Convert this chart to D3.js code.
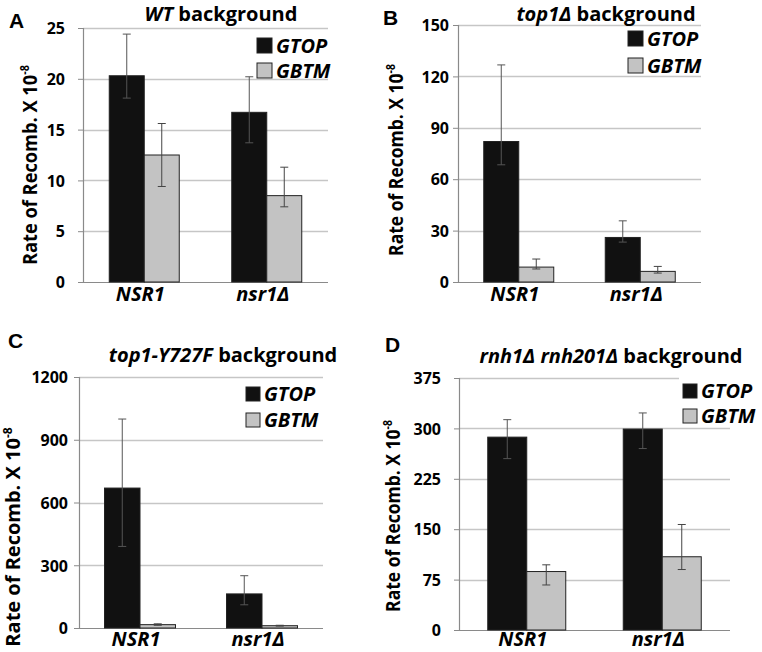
<!DOCTYPE html>
<html><head><meta charset="utf-8">
<script src="https://cdn.jsdelivr.net/npm/d3@7"></script>
<style>
html,body{margin:0;padding:0;background:#fff;}
svg{display:block;}
text{font-family:"Open Sans",sans-serif;font-weight:700;fill:#000;}
</style></head>
<body>
<svg id="chart" width="762" height="652"></svg>
<script>
// ---- data ----
const categories = ["NSR1", "nsr1Δ"];
const seriesNames = ["GTOP", "GBTM"];
const panelLetters = ["A", "B", "C", "D"];
const titleItalic = ["WT", "top1Δ", "top1-Y727F", "rnh1Δ rnh201Δ"];
const yTicksA = [0, 5, 10, 15, 20, 25];
const yTicksB = [0, 30, 60, 90, 120, 150];
const yTicksC = [0, 300, 600, 900, 1200];
const yTicksD = [0, 75, 150, 225, 300, 375];
// values per category [NSR1, nsr1Δ]
const gtopA = [20.3, 16.7], gtopA_hi = [24.4, 20.2], gtopA_lo = [18.1, 13.7];
const gbtmA = [12.5, 8.5],  gbtmA_hi = [15.6, 11.3], gbtmA_lo = [9.4, 7.4];
const gtopB = [82, 26],     gtopB_hi = [126.7, 35.7], gtopB_lo = [68.4, 23.3];
const gbtmB = [8.7, 6.2],   gbtmB_hi = [13.4, 9.1],   gbtmB_lo = [7.6, 5.2];
const gtopC = [669, 163],   gtopC_hi = [999, 250],    gtopC_lo = [390, 111];
const gbtmC = [16, 11],     gbtmC_hi = [20, 13],      gbtmC_lo = [13, 9];
const gtopD = [287, 299],   gtopD_hi = [313, 323],    gtopD_lo = [255, 270];
const gbtmD = [87, 109],    gbtmD_hi = [97, 157],     gbtmD_lo = [67, 90];

const panelData = [
  {ticks: yTicksA, s: [[gtopA, gtopA_lo, gtopA_hi], [gbtmA, gbtmA_lo, gbtmA_hi]]},
  {ticks: yTicksB, s: [[gtopB, gtopB_lo, gtopB_hi], [gbtmB, gbtmB_lo, gbtmB_hi]]},
  {ticks: yTicksC, s: [[gtopC, gtopC_lo, gtopC_hi], [gbtmC, gbtmC_lo, gbtmC_hi]]},
  {ticks: yTicksD, s: [[gtopD, gtopD_lo, gtopD_hi], [gbtmD, gbtmD_lo, gbtmD_hi]]}
];

// ---- layout ----
const layout = [
  {x0: 83, x1: 328, yT: 28, yB: 282, bw: 35, pad: 13, titleX: 221, titleY: 21, letX: 9, letY: 28,
   legX: 257, legY: 38, legS: 15, legGap: 25, xLabY: 301, yTitX: 30, yTitY: 165, yTitLen: 200, legBg: false},
  {x0: 458, x1: 701, yT: 25, yB: 282, bw: 35, pad: 4, titleX: 606, titleY: 21, letX: 383, letY: 25,
   legX: 628, legY: 31, legS: 15, legGap: 27, xLabY: 301, yTitX: 396, yTitY: 160, yTitLen: 192, legBg: false},
  {x0: 79, x1: 323, yT: 377, yB: 628, bw: 35.5, pad: 6, titleX: 223, titleY: 362, letX: 8, letY: 348,
   legX: 246, legY: 387, legS: 14, legGap: 26, xLabY: 646, yTitX: 13, yTitY: 537, yTitLen: 222, legBg: false},
  {x0: 459, x1: 730, yT: 378, yB: 630, bw: 39, pad: 13, titleX: 611, titleY: 363, letX: 385, letY: 352,
   legX: 683, legY: 384, legS: 14, legGap: 25, xLabY: 646, yTitX: 393, yTitY: 516, yTitLen: 192, legBg: true}
];

const colors = ["#111111", "#c3c3c3"];
const svg = d3.select("#chart");

panelData.forEach((pd, i) => {
  const L = layout[i];
  const g = svg.append("g");
  const y = d3.scaleLinear().domain([0, d3.max(pd.ticks)]).range([L.yB, L.yT]);
  const x = d3.scaleBand().domain(categories).range([L.x0, L.x1]);
  const xs = d3.scaleBand().domain(seriesNames).range([-L.bw, L.bw]);

  // gridlines
  g.selectAll("line.grid").data(pd.ticks.filter(t => t > 0)).join("line")
    .attr("x1", L.x0).attr("x2", L.x1)
    .attr("y1", d => Math.round(y(d)) + 0.5).attr("y2", d => Math.round(y(d)) + 0.5)
    .attr("stroke", "#c6c6c6").attr("stroke-width", 1.3);

  // y axis
  const yAxis = d3.axisLeft(y).tickValues(pd.ticks).tickFormat(d3.format("d")).tickSize(5).tickPadding(L.pad);
  const ag = g.append("g").attr("transform", `translate(${L.x0},0)`).call(yAxis);
  ag.select(".domain").attr("stroke", "#8a8a8a").attr("stroke-width", 1.2);
  ag.selectAll(".tick line").attr("stroke", "#8a8a8a");
  ag.selectAll(".tick text").style("font-size", "16px").style("font-family", "'Open Sans',sans-serif")
    .style("font-weight", 700).attr("fill", "#000").attr("dy", "0.36em");

  // x baseline
  g.append("line").attr("x1", L.x0).attr("x2", L.x1)
    .attr("y1", L.yB + 0.5).attr("y2", L.yB + 0.5).attr("stroke", "#8a8a8a").attr("stroke-width", 1.2);

  // bars
  pd.s.forEach((ser, si) => {
    const [vals, lo, hi] = ser;
    const sg = g.append("g");
    sg.selectAll("rect").data(categories).join("rect")
      .attr("x", c => x(c) + x.bandwidth() / 2 + xs(seriesNames[si]))
      .attr("width", xs.bandwidth())
      .attr("y", (c, k) => y(vals[k]))
      .attr("height", (c, k) => L.yB - y(vals[k]))
      .attr("fill", colors[si]).attr("stroke", "#222").attr("stroke-width", 1);
    // error bars
    categories.forEach((c, k) => {
      const cx = x(c) + x.bandwidth() / 2 + xs(seriesNames[si]) + xs.bandwidth() / 2;
      const ec = si === 0 ? "#555" : "#444";
      sg.append("line").attr("x1", cx).attr("x2", cx).attr("y1", y(lo[k])).attr("y2", y(hi[k]))
        .attr("stroke", ec).attr("stroke-width", 1);
      [lo[k], hi[k]].forEach(v => {
        sg.append("line").attr("x1", cx - 4).attr("x2", cx + 4).attr("y1", y(v)).attr("y2", y(v))
          .attr("stroke", ec).attr("stroke-width", 1);
      });
    });
  });

  // x labels
  g.selectAll("text.xl").data(categories).join("text")
    .attr("x", c => x(c) + x.bandwidth() / 2 - 4).attr("y", L.xLabY)
    .attr("text-anchor", "middle").style("font-size", "20px").style("font-style", "italic")
    .text(c => c);

  // y title (condensed horizontally to mimic the narrow original face)
  const yt = g.append("text")
    .attr("text-anchor", "middle").attr("dy", "0.35em").style("font-size", "20px");
  yt.append("tspan").text("Rate of Recomb. X 10");
  yt.append("tspan").attr("dy", "-0.7em").style("font-size", "12px").text("-8");
  const len = yt.node().getComputedTextLength();
  const sx = Math.min(1, L.yTitLen / len);
  yt.attr("transform", `translate(${L.yTitX},${L.yTitY}) rotate(-90) scale(${sx},1)`);

  // title
  const tt = g.append("text").attr("x", L.titleX).attr("y", L.titleY)
    .attr("text-anchor", "middle").style("font-size", "20px");
  tt.append("tspan").style("font-style", "italic").text(titleItalic[i]);
  tt.append("tspan").text(" background");

  // panel letter
  g.append("text").attr("x", L.letX).attr("y", L.letY)
    .style("font-family", "Liberation Sans,Arial,sans-serif").style("font-size", "21px").text(panelLetters[i]);

  // legend
  if (L.legBg) {
    g.append("rect").attr("x", L.legX - 4).attr("y", L.yT - 4).attr("width", 762 - L.legX + 4)
      .attr("height", L.legGap + L.legS + L.legY - L.yT + 2).attr("fill", "#fff");
  }
  seriesNames.forEach((s, si) => {
    const ly = L.legY + si * L.legGap;
    g.append("rect").attr("x", L.legX).attr("y", ly).attr("width", L.legS).attr("height", L.legS)
      .attr("fill", colors[si]).attr("stroke", "#222").attr("stroke-width", 1);
    g.append("text").attr("x", L.legX + L.legS + 4).attr("y", ly + L.legS - 0.5)
      .style("font-size", "20px").style("font-style", "italic").text(s);
  });
});
</script>
</body></html>
